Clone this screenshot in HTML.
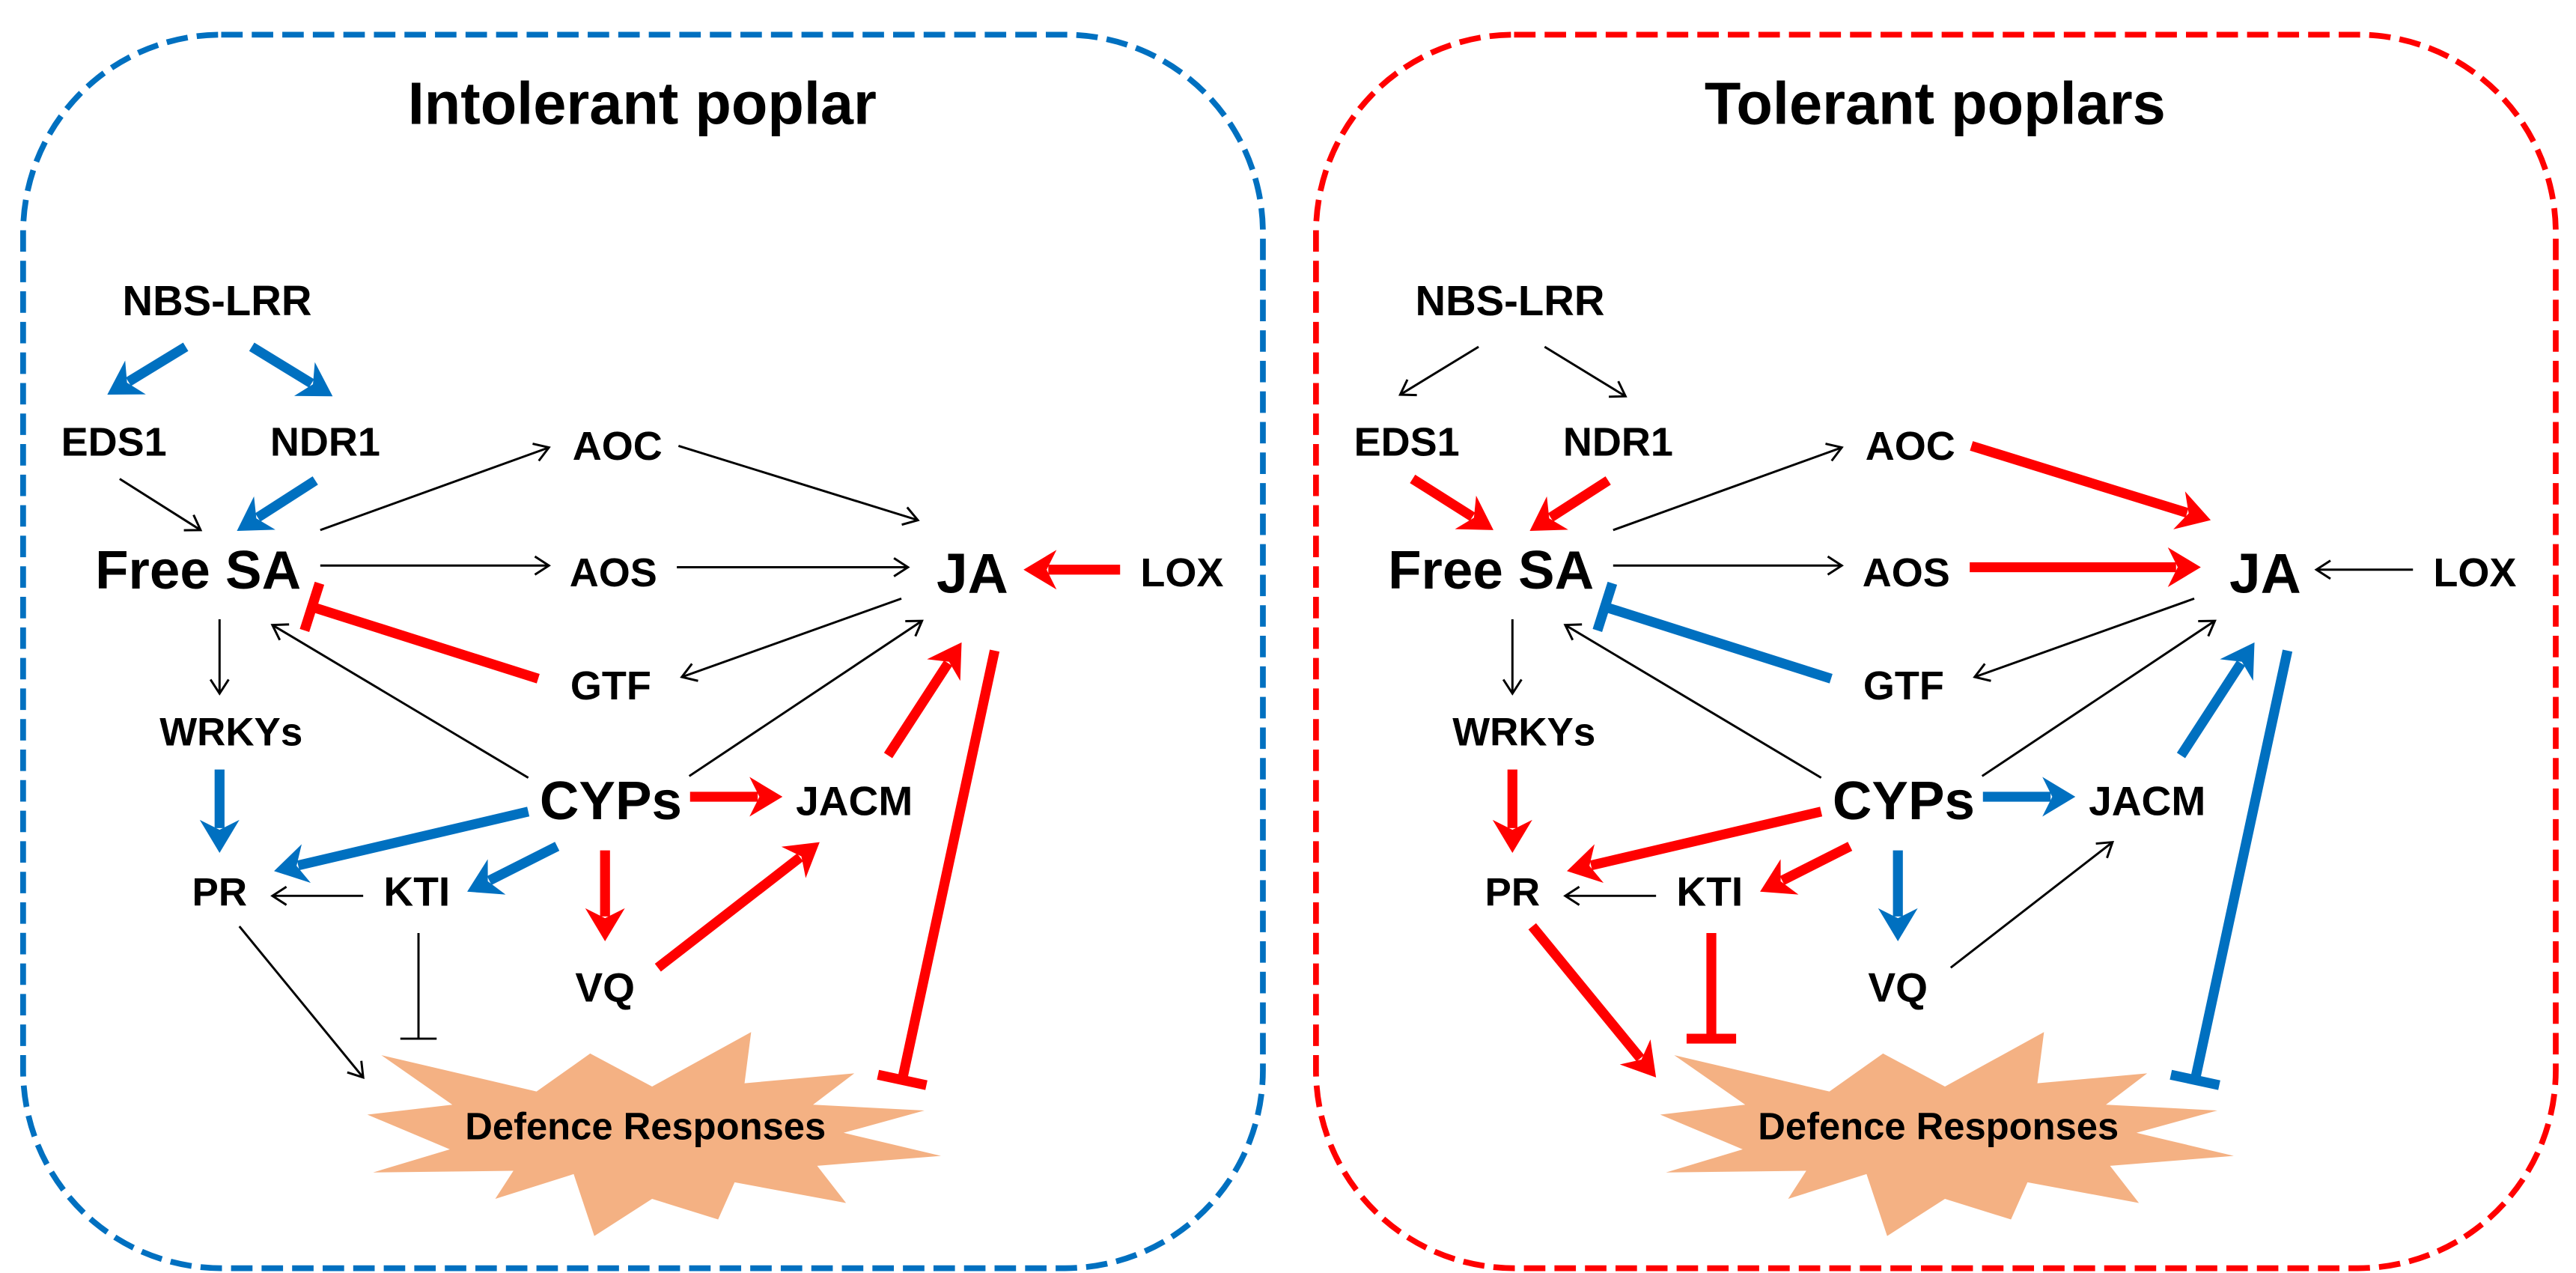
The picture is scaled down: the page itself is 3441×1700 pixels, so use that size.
<!DOCTYPE html>
<html><head><meta charset="utf-8"><style>
html,body{margin:0;padding:0;background:#fff;width:3441px;height:1700px;overflow:hidden}
svg{display:block}
text{font-family:"Liberation Sans",Arial,sans-serif;font-weight:bold;fill:#000;text-anchor:middle}
</style></head><body>
<svg id="s" width="3441" height="1700" viewBox="0 0 3441 1700" xmlns="http://www.w3.org/2000/svg">
<g id="L" transform="scale(1.1026)"></g>
<g id="R" transform="translate(1727,0) scale(1.1026)"></g>
</svg>
<script>
var NS="http://www.w3.org/2000/svg";
var B="#0070C0",Rd="#FF0000",K="#000";
function el(p,n,a,t){var e=document.createElementNS(NS,n);for(var k in a)e.setAttribute(k,a[k]);if(t)e.textContent=t;p.appendChild(e);return e;}
function arrow(g,x1,y1,x2,y2,c,thick,tee){
 var dx=x2-x1,dy=y2-y1,L=Math.hypot(dx,dy),ux=dx/L,uy=dy/L,px=-uy,py=ux;
 var w=thick?12:2.7;
 if(tee){
  el(g,"line",{x1:x1,y1:y1,x2:x2,y2:y2,stroke:c,"stroke-width":w});
  var h=thick?30:22;
  el(g,"line",{x1:x2+px*h,y1:y2+py*h,x2:x2-px*h,y2:y2-py*h,stroke:c,"stroke-width":w});
  return;
 }
 if(thick){
  var hl=40,hw=24,nl=30;
  el(g,"line",{x1:x1,y1:y1,x2:x2-ux*nl,y2:y2-uy*nl,stroke:c,"stroke-width":w});
  var bx=x2-ux*hl,by=y2-uy*hl,nx=x2-ux*(hl-12),ny=y2-uy*(hl-12);
  el(g,"polygon",{points:[x2,y2,bx+px*hw,by+py*hw,nx,ny,bx-px*hw,by-py*hw].join(","),fill:c});
 } else {
  el(g,"line",{x1:x1,y1:y1,x2:x2,y2:y2,stroke:c,"stroke-width":w});
  var hl=17,hw=11,bx=x2-ux*hl,by=y2-uy*hl;
  el(g,"polyline",{points:[bx+px*hw,by+py*hw,x2,y2,bx-px*hw,by-py*hw].join(","),fill:"none",stroke:c,"stroke-width":w});
 }
}
function panel(id,title,bc,cfg){
 var g=document.getElementById(id);
 el(g,"rect",{x:28,y:42,width:1502,height:1494,rx:240,ry:240,fill:"none",stroke:bc,"stroke-width":7,"stroke-dasharray":"26 11"});
 el(g,"path",{d:"M462,1278 L650,1322 L715,1276 L790,1316 L910,1250 L902,1312 L1035,1300 L985,1338 L1120,1345 L1022,1372 L1140,1400 L990,1412 L1025,1457 L890,1432 L870,1477 L790,1452 L720,1497 L695,1422 L600,1452 L622,1418 L452,1420 L545,1392 L445,1350 L548,1338 Z",fill:"#F4B183"});
 var T=[["NBS-LRR",263,382,51],["EDS1",138,552,49],["NDR1",394,552,49],["AOC",748,557,49],["Free SA",240,713,66],["AOS",743,710,49],["JA",1178,718,68],["LOX",1432,710,49],["GTF",740,847,49],["WRKYs",280,903,48],["CYPs",740,992,66],["JACM",1035,987,50],["PR",266,1097,48],["KTI",505,1097,50],["VQ",733,1213,50],["Defence Responses",782,1380,46]];
 T.forEach(function(t){el(g,"text",{x:t[1],y:t[2],"font-size":t[3]},t[0]);});
 el(g,"text",{x:778,y:150,"font-size":72},title);
 var A=[
  [225,420,130,478],[305,420,403,480],[145,580,243,642],[382,582,287,643],
  [388,642,665,542],[822,540,1112,630],[388,685,665,685],[820,687,1100,687],
  [1357,690,1240,690],[652,822,378,735],[1092,725,826,820],[835,940,1117,752],
  [640,942,330,757],[266,750,266,840],[266,932,266,1033],[836,965,948,965],
  [1076,915,1165,778],[1205,788,1093,1308],[640,983,332,1055],[675,1025,566,1080],
  [733,1030,733,1140],[797,1172,993,1020],[440,1085,330,1085],[507,1130,507,1258],[290,1122,440,1305]];
 A.forEach(function(a,i){var c=cfg[i];arrow(g,a[0],a[1],a[2],a[3],c[0],c[1],c[2]);});
}
var k=[K,0,0],b=[B,1,0],r=[Rd,1,0];
var left=[b,b,k,b, k,k,k,k, r,[Rd,1,1],k,k, k,k,b,r, r,[Rd,1,1],b,b, r,r,k,[K,0,1],k];
var right=[k,k,r,r, k,r,k,r, k,[B,1,1],k,k, k,k,r,b, b,[B,1,1],r,r, b,k,k,[Rd,1,1],r];
panel("L","Intolerant poplar",B,left);
panel("R","Tolerant poplars",Rd,right);
</script>
</body></html>
